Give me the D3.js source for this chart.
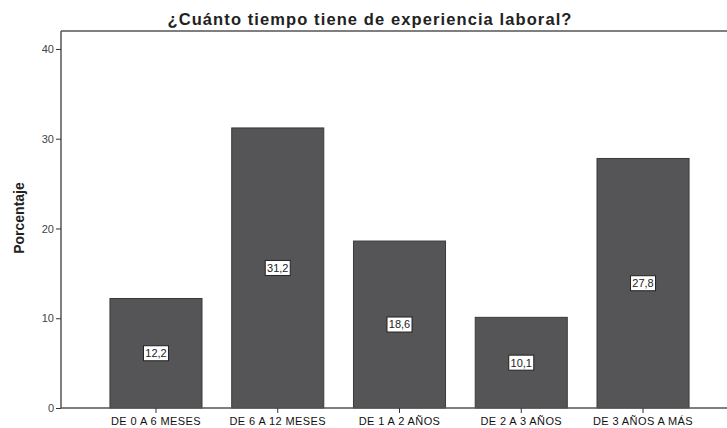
<!DOCTYPE html>
<html>
<head>
<meta charset="utf-8">
<script src="https://cdn.jsdelivr.net/npm/d3@7"></script>
<style>
  body { margin: 0; background: #fff; }
  text { font-family: "Liberation Sans", Arial, sans-serif; }
</style>
</head>
<body>
<div id="chart"></div>
<script>
// datos del grafico
var categorias = ["DE 0 A 6 MESES", "DE 6 A 12 MESES", "DE 1 A 2 AÑOS", "DE 2 A 3 AÑOS", "DE 3 AÑOS A MÁS"];
var porcentajes = [12.2, 31.2, 18.6, 10.1, 27.8];
var ticksY = [0, 10, 20, 30, 40];

var svgWidth = 727, svgHeight = 428;
var margin = { top: 31, left: 61, bottom: 20, right: -11 };

var svg = d3.select("#chart").append("svg")
    .attr("width", svgWidth)
    .attr("height", svgHeight);

var chartWidth = svgWidth - margin.left - margin.right;
var chartHeight = svgHeight - margin.top - margin.bottom;

var g = svg.append("g").attr("transform", `translate(${margin.left}, ${margin.top})`);

//escalas
var x = d3.scaleBand()
    .domain(categorias)
    .range([0, chartWidth])
    .paddingInner(0.244)
    .paddingOuter(0.402);

var y = d3.scaleLinear()
    .domain([0, 42])
    .range([chartHeight, 0]);

//titulo
svg.append("text")
    .attr("x", 370)
    .attr("y", 25)
    .attr("text-anchor", "middle")
    .style("font-size", "16.5px")
    .style("font-weight", "bold")
    .style("letter-spacing", "1.1px")
    .style("fill", "#222")
    .text("¿Cuánto tiempo tiene de experiencia laboral?");

//barras
g.selectAll("rect.bar")
    .data(porcentajes)
    .enter()
    .append("rect")
    .attr("class", "bar")
    .attr("x", (d, i) => x(categorias[i]))
    .attr("y", d => y(d))
    .attr("width", x.bandwidth())
    .attr("height", d => chartHeight - y(d))
    .attr("fill", "#555557")
    .attr("stroke", "#3a3a3a")
    .attr("stroke-width", 1);

//marco superior
g.append("line")
    .attr("x1", 0).attr("x2", chartWidth)
    .attr("y1", 0).attr("y2", 0)
    .attr("stroke", "#555").attr("stroke-width", 1.5);

//ejes
var leftAxis = d3.axisLeft(y).tickValues(ticksY).tickSize(5).tickPadding(2);
var bottomAxis = d3.axisBottom(x).tickSize(5).tickPadding(4);

var gy = g.append("g").call(leftAxis);
gy.select(".domain").attr("d", `M0,${chartHeight}V0`).attr("stroke", "#555").attr("stroke-width", 1.5);
gy.selectAll(".tick line").attr("stroke", "#333");
gy.selectAll(".tick text").style("font-size", "11px").style("fill", "#444");

var gx = g.append("g").attr("transform", `translate(0, ${chartHeight})`).call(bottomAxis);
gx.select(".domain").attr("d", `M0,0H${chartWidth}`).attr("stroke", "#555").attr("stroke-width", 1.5);
gx.selectAll(".tick line").attr("stroke", "#333");
gx.selectAll(".tick text").style("font-size", "11px").style("letter-spacing", "0.4px").style("fill", "#111");

//etiqueta eje Y
svg.append("text")
    .attr("transform", "rotate(-90)")
    .attr("x", -218)
    .attr("y", 24)
    .attr("text-anchor", "middle")
    .style("font-size", "14px")
    .style("font-weight", "bold")
    .style("fill", "#222")
    .text("Porcentaje");

//etiquetas de valores
var etiquetas = g.selectAll("g.lbl")
    .data(porcentajes)
    .enter()
    .append("g")
    .attr("class", "lbl")
    .attr("transform", (d, i) => `translate(${x(categorias[i]) + x.bandwidth() / 2}, ${y(d / 2)})`);

etiquetas.append("rect")
    .attr("x", -12.5).attr("y", -7.5)
    .attr("width", 25).attr("height", 15)
    .attr("fill", "#fff")
    .attr("stroke", "#222")
    .attr("stroke-width", 1);

etiquetas.append("text")
    .attr("text-anchor", "middle")
    .attr("dy", "0.36em")
    .style("font-size", "11px")
    .style("fill", "#222")
    .text(d => d.toFixed(1).replace(".", ","));
</script>
</body>
</html>
